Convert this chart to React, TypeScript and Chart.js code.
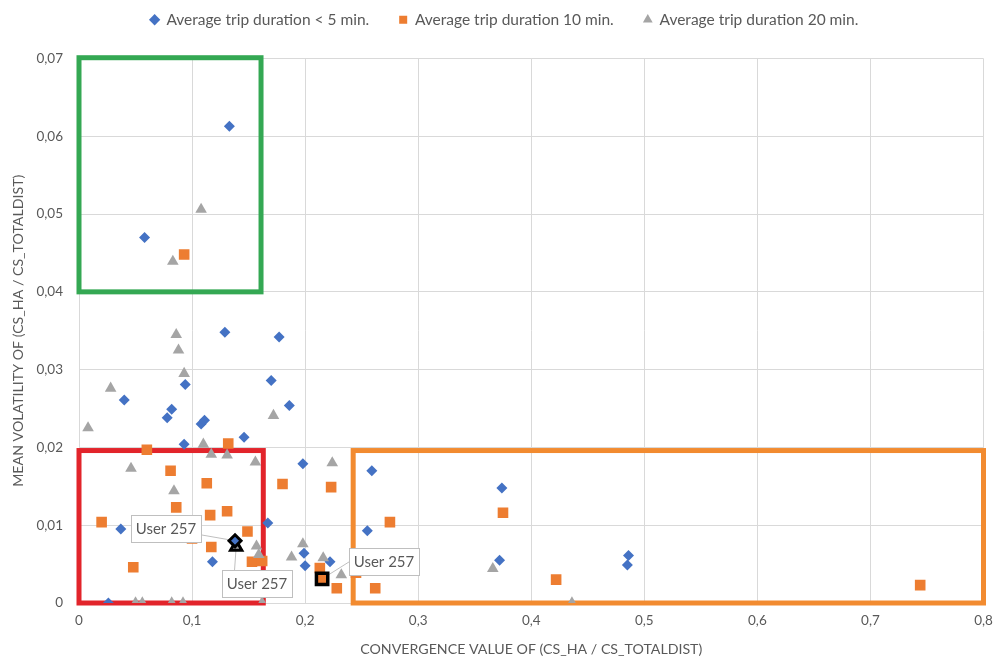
import React, { useEffect, useRef } from "react";
import { Chart, registerables } from "chart.js";

Chart.register(...registerables);

const FONT = "Lato, 'Open Sans', sans-serif";
const TEXT = "#595959";
const BLUE = "#4472C4";
const ORANGE = "#ED7D31";
const GREY = "#A5A5A5";

const seriesNames = [
  "Average trip duration < 5 min.",
  "Average trip duration 10 min.",
  "Average trip duration 20 min.",
];

const xAxisTitle = "CONVERGENCE VALUE OF (CS_HA / CS_TOTALDIST)";
const yAxisTitle = "MEAN VOLATILITY OF (CS_HA / CS_TOTALDIST)";

// Average trip duration < 5 min.
const shortTripX = [
  0.133, 0.058, 0.129, 0.177, 0.094, 0.170, 0.040, 0.186, 0.082, 0.078,
  0.108, 0.111, 0.146, 0.093, 0.198, 0.259, 0.374, 0.255, 0.372, 0.486,
  0.485, 0.199, 0.200, 0.222, 0.167, 0.037, 0.118, 0.026,
];
const shortTripY = [
  0.0613, 0.0470, 0.0348, 0.0342, 0.0281, 0.0286, 0.0261, 0.0254, 0.0249, 0.0238,
  0.0230, 0.0235, 0.0213, 0.0204, 0.0179, 0.0170, 0.0148, 0.0093, 0.0055, 0.0061,
  0.0049, 0.0064, 0.0048, 0.0053, 0.0103, 0.0095, 0.0053, 0.0,
];

// Average trip duration 10 min.
const mediumTripX = [
  0.093, 0.132, 0.060, 0.081, 0.113, 0.180, 0.223, 0.086, 0.131, 0.116,
  0.020, 0.149, 0.100, 0.117, 0.153, 0.162, 0.048, 0.213, 0.228, 0.262,
  0.275, 0.375, 0.422, 0.245, 0.744,
];
const mediumTripY = [
  0.0448, 0.0205, 0.0197, 0.0170, 0.0154, 0.0153, 0.0149, 0.0123, 0.0118, 0.0113,
  0.0104, 0.0092, 0.0083, 0.0072, 0.0053, 0.0054, 0.0046, 0.0045, 0.0019, 0.0019,
  0.0104, 0.0116, 0.0030, 0.0039, 0.0023,
];

// Average trip duration 20 min.
const longTripX = [
  0.108, 0.083, 0.086, 0.088, 0.093, 0.028, 0.008, 0.172, 0.110, 0.117,
  0.131, 0.156, 0.224, 0.046, 0.084, 0.157, 0.159, 0.188, 0.198, 0.216,
  0.232, 0.366, 0.436, 0.050, 0.056, 0.082, 0.092, 0.162,
];
const longTripY = [
  0.0506, 0.0439, 0.0345, 0.0325, 0.0295, 0.0276, 0.0225, 0.0241, 0.0204, 0.0191,
  0.0190, 0.0181, 0.0180, 0.0173, 0.0144, 0.0073, 0.0062, 0.0059, 0.0076, 0.0058,
  0.0036, 0.0044, 0.0, 0.0, 0.0, 0.0, 0.0, 0.0,
];

// Highlighted user (one point per series)
const highlightLabel = "User 257";
const highlightX = [0.138, 0.215, 0.139];
const highlightY = [0.0080, 0.0031, 0.0072];

// Annotation rectangles (data units)
const boxLeft = [0, 0, 0.2425];
const boxRight = [0.161, 0.163, 0.8];
const boxBottom = [0.04, 0, 0];
const boxTop = [0.0701, 0.0196, 0.0196];
const boxColors = ["#34A853", "#E2242B", "#F28B30"];

export default function App() {
  const ref = useRef<HTMLCanvasElement>(null);

  useEffect(() => {
    document.body.style.margin = "0";
    const canvas = ref.current;
    if (!canvas) return;

    const pts = (xs: number[], ys: number[]) => xs.map((x, i) => ({ x, y: ys[i] }));

    const callouts = [
      { dataset: 3, dx: -104.5, dy: -26, lx: 70, ly: 20 },
      { dataset: 5, dx: -14.6, dy: 23, lx: 13, ly: 0 },
      { dataset: 4, dx: 27, dy: -31, lx: 0, ly: 14 },
    ];
    const CW = 70;
    const CH = 27;

    const boxesPlugin = {
      id: "boxes",
      beforeDatasetsDraw(chart: any) {
        const { ctx } = chart;
        const xs = chart.scales.x;
        const ys = chart.scales.y;
        ctx.save();
        ctx.lineWidth = 5;
        boxLeft.forEach((_, i) => {
          const l = xs.getPixelForValue(boxLeft[i]);
          const r = xs.getPixelForValue(boxRight[i]);
          const t = ys.getPixelForValue(boxTop[i]);
          const b = ys.getPixelForValue(boxBottom[i]);
          ctx.strokeStyle = boxColors[i];
          ctx.strokeRect(l, t, r - l, b - t);
        });
        ctx.strokeStyle = "#BFBFBF";
        ctx.lineWidth = 1;
        callouts.forEach((c) => {
          const el = chart.getDatasetMeta(c.dataset).data[0];
          if (!el) return;
          const bx = el.x + c.dx;
          const by = el.y + c.dy;
          ctx.beginPath();
          ctx.moveTo(el.x, el.y);
          ctx.lineTo(bx + c.lx, by + c.ly);
          ctx.stroke();
        });
        ctx.restore();
      },
      afterDatasetsDraw(chart: any) {
        const { ctx } = chart;
        ctx.save();
        callouts.forEach((c) => {
          const el = chart.getDatasetMeta(c.dataset).data[0];
          if (!el) return;
          const bx = Math.round(el.x + c.dx);
          const by = Math.round(el.y + c.dy);
          ctx.fillStyle = "#FFFFFF";
          ctx.fillRect(bx, by, CW, CH);
          ctx.strokeStyle = "#BFBFBF";
          ctx.lineWidth = 1;
          ctx.strokeRect(bx + 0.5, by + 0.5, CW, CH);
          ctx.fillStyle = TEXT;
          ctx.font = `15px ${FONT}`;
          ctx.textAlign = "center";
          ctx.textBaseline = "middle";
          ctx.fillText(highlightLabel, bx + CW / 2, by + CH / 2 + 1);
        });
        ctx.restore();
      },
    };

    const chart = new Chart(canvas, {
      type: "scatter",
      data: {
        datasets: [
          {
            label: seriesNames[0],
            data: pts(shortTripX, shortTripY),
            pointStyle: "rectRot",
            pointRadius: 5.5,
            backgroundColor: BLUE,
            borderColor: BLUE,
            borderWidth: 0,
            order: 2,
          },
          {
            label: seriesNames[1],
            data: pts(mediumTripX, mediumTripY),
            pointStyle: "rect",
            pointRadius: 7.5,
            backgroundColor: ORANGE,
            borderColor: ORANGE,
            borderWidth: 0,
            order: 1,
          },
          {
            label: seriesNames[2],
            data: pts(longTripX, longTripY),
            pointStyle: "triangle",
            pointRadius: 6.7,
            backgroundColor: GREY,
            borderColor: GREY,
            borderWidth: 0,
            order: 0,
          },
          {
            label: highlightLabel,
            data: [{ x: highlightX[0], y: highlightY[0] }],
            pointStyle: "rectRot",
            pointRadius: 6,
            backgroundColor: BLUE,
            borderColor: "#000000",
            borderWidth: 3,
            order: -1,
          },
          {
            label: highlightLabel,
            data: [{ x: highlightX[1], y: highlightY[1] }],
            pointStyle: "rect",
            pointRadius: 8,
            backgroundColor: ORANGE,
            borderColor: "#000000",
            borderWidth: 3.5,
            order: -1,
          },
          {
            label: highlightLabel,
            data: [{ x: highlightX[2], y: highlightY[2] }],
            pointStyle: "triangle",
            pointRadius: 6.5,
            backgroundColor: GREY,
            borderColor: "#000000",
            borderWidth: 3,
            order: -1,
          },
        ],
      },
      options: {
        animation: false,
        responsive: false,
        events: [],
        layout: { padding: { top: -18, left: 14, right: 0, bottom: 0 } },
        plugins: {
          legend: {
            position: "top",
            labels: {
              usePointStyle: true,
              boxWidth: 8,
              boxHeight: 8,
              padding: 30,
              color: TEXT,
              font: { family: FONT, size: 15.5 },
              filter: (item: any) => item.datasetIndex < 3,
              sort: (a: any, b: any) => a.datasetIndex - b.datasetIndex,
            },
          },
          tooltip: { enabled: false },
        },
        scales: {
          x: {
            type: "linear",
            min: 0,
            max: 0.8,
            ticks: {
              stepSize: 0.1,
              padding: 10,
              color: TEXT,
              font: { family: FONT, size: 13.5 },
              callback: (v: any) => (Number(v) === 0 ? "0" : Number(v).toFixed(1).replace(".", ",")),
            },
            grid: { color: "#D9D9D9", drawTicks: false },
            border: { display: true, color: "#D9D9D9" },
            title: {
              display: true,
              text: xAxisTitle,
              color: TEXT,
              font: { family: FONT, size: 14.2 },
              padding: { top: 0, bottom: 2 },
            },
            afterFit: (s: any) => {
              s.height = 57;
              s.paddingLeft = 0;
              s.paddingRight = 9;
            },
          },
          xSpacer: {
            type: "linear",
            position: "top",
            display: true,
            ticks: { display: false },
            grid: { display: false },
            border: { display: false },
            afterFit: (s: any) => {
              s.height = 21;
              s.paddingLeft = 0;
              s.paddingRight = 0;
            },
          },
          y: {
            type: "linear",
            min: 0,
            max: 0.07,
            ticks: {
              stepSize: 0.01,
              padding: 16,
              color: TEXT,
              font: { family: FONT, size: 13.5 },
              callback: (v: any) => (Number(v) === 0 ? "0" : Number(v).toFixed(2).replace(".", ",")),
            },
            grid: { color: "#D9D9D9", drawTicks: false },
            border: { display: true, color: "#D9D9D9" },
            title: {
              display: true,
              text: yAxisTitle,
              color: TEXT,
              font: { family: FONT, size: 14.2 },
              padding: { top: -4.5, bottom: 0 },
            },
            afterFit: (s: any) => {
              s.width = 65;
            },
          },
        },
      },
      plugins: [boxesPlugin],
    } as any);

    return () => chart.destroy();
  }, []);

  return (
    <div style={{ width: 995, height: 660, background: "#fff" }}>
      <canvas ref={ref} width={995} height={660} />
    </div>
  );
}
